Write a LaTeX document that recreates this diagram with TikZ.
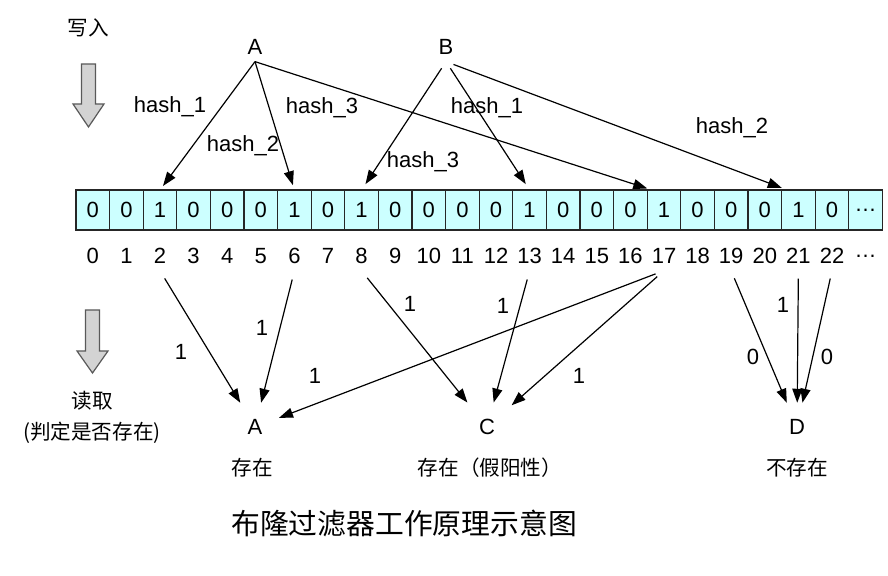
\documentclass[tikz,border=0pt]{standalone}
\usepackage{fontspec}
\setmainfont{Liberation Sans}
\newfontfamily\cjk{Noto Sans CJK SC}
\usetikzlibrary{arrows.meta}
\definecolor{cellcyan}{RGB}{204,255,255}
\definecolor{arrowgray}{RGB}{211,211,211}
\tikzset{
  bit/.style={draw=black!85, fill=cellcyan, minimum width=16.8pt, minimum height=20pt,
    inner sep=0pt, outer sep=0pt, line width=0.6pt, font=\fontsize{11}{13}\selectfont},
  lbl/.style={font=\fontsize{11}{13}\selectfont},
  cn/.style={font=\fontsize{10.3}{12}\selectfont\cjk},
  hit/.style={->, line width=0.6pt},
  res/.style={lbl, outer sep=5pt},
  blockarrow/.style={draw=black!65, fill=arrowgray, line width=0.6pt},
}
\begin{document}
\begin{tikzpicture}[x=0.5pt, y=-0.5pt, >={Triangle[length=7pt,width=5pt]}]
\useasboundingbox (0,0) rectangle (888,576);

% write / read block arrows
\node[cn] (write) at (88,28) {写入};
\draw[blockarrow] (81.5,64) -- (95.5,64) -- (95.5,104) -- (104,104) -- (88.5,127)
  -- (73,104) -- (81.5,104) -- cycle;
\draw[blockarrow] (85.5,310) -- (99.5,310) -- (99.5,351) -- (108,351) -- (92.5,373)
  -- (77,351) -- (85.5,351) -- cycle;
\node[cn] (read) at (92,401) {读取};
\node[cn] (readnote) at (92,433) {(判定是否存在)};

% bit array
\foreach \v [count=\i from 0] in {0,0,1,0,0,0,1,0,1,0,0,0,0,1,0,0,0,1,0,0,0,1,0,\dots}
  \node[bit] (c\i) at ({92.8+33.6*\i},210) {\v};
\foreach \i in {0,...,22}
  \node[lbl] (i\i) at ({92.8+33.6*\i},256) {\i};
\node[lbl] (i23) at ({92.8+33.6*23},256) {\dots};

% inserting A and B
\node[lbl] (srcA) at (255,47) {A};
\node[lbl] (srcB) at (446,47) {B};
\draw[hit, shorten >=2.5pt] (srcA.south) -- (c2.north);
\draw[hit, shorten >=2.5pt] (srcA.south) -- (c6.north);
\draw[hit, shorten >=2.5pt] (srcA.south) -- ([xshift=-6pt]c17.north);
\draw[hit, shorten <=4pt, shorten >=3.5pt] (srcB.south) -- (c8.north);
\draw[hit, shorten <=4pt, shorten >=3.5pt] (srcB.south) -- (c13.north);
\draw[hit, shorten <=4pt, shorten >=3pt] (srcB.south) -- ([xshift=-5.5pt]c21.north);
\node[lbl] (h1A) at (170,107) {hash\_1};
\node[lbl] (h2A) at (243,146) {hash\_2};
\node[lbl] (h3A) at (322,108) {hash\_3};
\node[lbl] (h3B) at (423,162) {hash\_3};
\node[lbl] (h1B) at (487,108) {hash\_1};
\node[lbl] (h2B) at (732,128) {hash\_2};

% querying A, C and D
\node[res] (resA) at (255,427) {A};
\node[res] (resC) at (487,427) {C};
\node[res] (resD) at (797,427) {D};
\draw[hit, shorten <=4.5pt] (i2.south) -- (resA);
\draw[hit, shorten <=4.5pt] (i6.south) -- (resA);
\draw[hit, shorten <=4.5pt] (i17.south) -- (resA);
\draw[hit, shorten <=4.5pt] (i8.south) -- (resC);
\draw[hit, shorten <=4.5pt] (i13.south) -- (resC);
\draw[hit, shorten <=4.5pt] (i17.south) -- (resC);
\draw[hit, shorten <=4pt] (i19.south) -- (resD);
\draw[hit, shorten <=4pt] (i21.south) -- (resD);
\draw[hit, shorten <=4pt] (i22.south) -- (resD);
\node[lbl] (w2) at (181,352) {1};
\node[lbl] (w6) at (262,328) {1};
\node[lbl] (w17a) at (315,376) {1};
\node[lbl] (w8) at (410,304) {1};
\node[lbl] (w13) at (503,306) {1};
\node[lbl] (w17c) at (579,376) {1};
\node[lbl] (w19) at (753,357) {0};
\node[lbl] (w21) at (783,305) {1};
\node[lbl] (w22) at (827,357) {0};
\node[cn] (capA) at (252,468) {存在};
\node[cn] (capC) at (490,468) {存在（假阳性）};
\node[cn] (capD) at (797,468) {不存在};

\node[font=\fontsize{14.4}{16}\selectfont\cjk] (title) at (404,523) {布隆过滤器工作原理示意图};
\end{tikzpicture}
\end{document}
